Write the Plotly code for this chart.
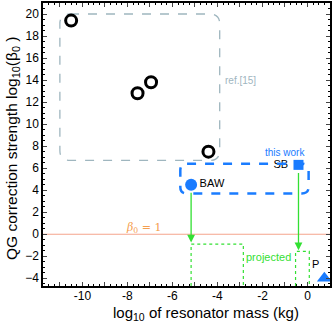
import plotly.graph_objects as go

# data
ref_x = [-10.5, -7.55, -6.95, -4.4]
ref_y = [19.4, 12.8, 13.8, 7.5]

baw_x, baw_y = [-5.17], [4.5]
sb_x, sb_y = [-0.4], [6.3]
p_x, p_y = [0.75], [-4.0]

# projected values (arrow tips)
proj_x = [-5.17, -0.4]
proj_y = [-0.75, -1.45]

GREEN = "#33e033"
BLUE = "#1a7cff"
GRAY = "#9fb6bf"


def rounded_path(x0, x1, y0, y1, rx, ry):
    return (f"M {x0+rx},{y1} L {x1-rx},{y1} Q {x1},{y1} {x1},{y1-ry} "
            f"L {x1},{y0+ry} Q {x1},{y0} {x1-rx},{y0} L {x0+rx},{y0} "
            f"Q {x0},{y0} {x0},{y0+ry} L {x0},{y1-ry} Q {x0},{y1} {x0+rx},{y1} Z")


fig = go.Figure()

fig.add_trace(go.Scatter(
    x=ref_x, y=ref_y, mode="markers",
    marker=dict(symbol="circle-open", size=11, color="black", line=dict(width=3, color="black")),
))
fig.add_trace(go.Scatter(
    x=baw_x, y=baw_y, mode="markers+text", text=["BAW"], textposition="middle right",
    textfont=dict(size=11, color="black"),
    marker=dict(symbol="circle", size=12, color=BLUE),
))
fig.add_trace(go.Scatter(
    x=sb_x, y=sb_y, mode="markers+text", text=["SB "], textposition="middle left",
    textfont=dict(size=11, color="black"),
    marker=dict(symbol="square", size=10, color=BLUE),
))
fig.add_trace(go.Scatter(
    x=p_x, y=p_y, mode="markers",
    marker=dict(symbol="triangle-up", size=13, color=BLUE),
))

shapes = [
    # beta_0 = 1 line
    dict(type="line", xref="paper", x0=0, x1=1, yref="y", y0=0, y1=0,
         line=dict(color="#f5a58c", width=1.2), layer="below"),
    # ref.[15] region
    dict(type="path", path=rounded_path(-11.0, -3.9, 6.7, 20.0, 0.45, 0.9),
         line=dict(color=GRAY, width=1.3, dash="dash"), layer="below"),
    # this work region
    dict(type="path", path=rounded_path(-5.65, 0.05, 3.7, 6.4, 0.3, 0.6),
         line=dict(color=BLUE, width=2.5, dash="dash")),
    # projected boxes
    dict(type="path", path="M -5.17,-4.7 L -5.17,-0.9 L -2.85,-0.9 L -2.85,-4.7",
         line=dict(color=GREEN, width=1.2, dash="dot")),
    dict(type="path", path="M -0.53,-4.7 L -0.53,-1.55 L 0.08,-1.55 L 0.08,-4.7",
         line=dict(color=GREEN, width=1.2, dash="dot")),
]

annotations = [
    dict(x=-3.75, y=14.0, text="ref.[15]", showarrow=False, xanchor="left",
         font=dict(size=10, color=GRAY)),
    dict(x=0.0, y=6.75, text="this work", showarrow=False, xanchor="right", yanchor="bottom",
         font=dict(size=10, color=BLUE)),
    dict(x=-1.75, y=-2.1, text="projected", showarrow=False,
         font=dict(size=11, color=GREEN)),
    dict(x=-7.3, y=0.6, text="<i>β</i><sub>0</sub> = 1", showarrow=False,
         font=dict(size=11, color="#f5a050", family="DejaVu Serif")),
    dict(x=p_x[0] - 0.15, y=p_y[0] + 0.55, text="P", showarrow=False, xanchor="right",
         yanchor="bottom", font=dict(size=11, color="black")),
    # axis titles
    dict(xref="paper", yref="paper", x=0.568, y=-0.137, xanchor="center", yanchor="bottom",
         text="log<sub>10</sub> of resonator mass (kg)", showarrow=False, font=dict(size=15)),
    dict(xref="paper", yref="paper", x=-0.108, y=0.484, xanchor="center", yanchor="middle",
         textangle=-90, text="QG correction strength log<sub>10</sub>(β<sub>0</sub> )",
         showarrow=False, font=dict(size=15.5)),
]
for x0, y0, y1 in [(baw_x[0], baw_y[0], proj_y[0]), (sb_x[0], sb_y[0], proj_y[1])]:
    annotations.append(dict(
        x=x0, y=y1, ax=x0, ay=y0 - 0.6, xref="x", yref="y", axref="x", ayref="y",
        showarrow=True, arrowhead=2, arrowsize=1.2, arrowwidth=1.3, arrowcolor=GREEN, text="",
    ))

x_ticks = list(range(-11, 1))
y_ticks = list(range(-4, 21, 2))

fig.update_layout(
    width=332, height=325,
    margin=dict(l=43, r=2, t=3, b=39),
    plot_bgcolor="white", paper_bgcolor="white",
    showlegend=False,
    font=dict(family="Liberation Sans, Arial", size=12, color="black"),
    shapes=shapes, annotations=annotations,
    xaxis=dict(
        range=[-11.75, 1.0], tickvals=x_ticks,
        ticktext=[str(v) if v % 2 == 0 else "" for v in x_ticks],
        ticks="inside", ticklen=4, tickwidth=1, mirror="allticks", showline=True,
        linecolor="black", linewidth=1.5, showgrid=False, zeroline=False, automargin=False,
        tickfont=dict(size=12), ticklabelstandoff=-2,
        minor=dict(dtick=0.25, ticks="inside", ticklen=2, tickcolor="black"),
    ),
    yaxis=dict(
        range=[-4.7, 21], tickvals=y_ticks,
        ticks="inside", ticklen=4, tickwidth=1, mirror="allticks", showline=True,
        linecolor="black", linewidth=1.5, showgrid=False, zeroline=False, automargin=False,
        tickfont=dict(size=12),
        minor=dict(dtick=0.5, ticks="inside", ticklen=2, tickcolor="black"),
    ),
)

# the page's default body margin would shift the figure by 8px
fig.write_html("out.html", config={"displayModeBar": False},
               post_script="document.body.style.margin='0';")
